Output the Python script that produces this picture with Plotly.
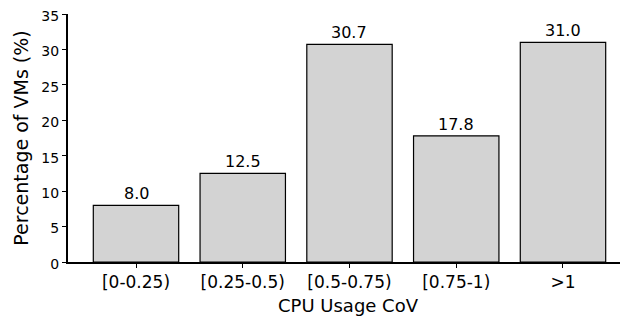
import plotly.graph_objects as go

categories = ["[0-0.25)", "[0.25-0.5)", "[0.5-0.75)", "[0.75-1)", ">1"]
values = [8.0, 12.5, 30.7, 17.8, 31.0]
y_ticks = [0, 5, 10, 15, 20, 25, 30, 35]

font = "DejaVu Sans"
fig = go.Figure()
fig.add_trace(go.Bar(
    x=list(range(len(categories))), y=values,
    width=0.8,
    marker=dict(color="lightgray", line=dict(color="black", width=1.2)),
    showlegend=False, hoverinfo="skip",
))
for i, v in enumerate(values):
    fig.add_annotation(x=i, y=v, text=f"{v:.1f}", showarrow=False,
                       yanchor="bottom", yshift=0,
                       font=dict(family=font, size=16, color="black"))

# page body has an 8px margin, so the figure is sized/offset accordingly
fig.update_layout(
    width=620, height=310,
    margin=dict(l=60, r=0, t=6, b=56),
    plot_bgcolor="white", paper_bgcolor="white",
    font=dict(family=font, size=14, color="black"),
)
fig.update_xaxes(
    range=[-0.637, 4.609], automargin=False,
    tickvals=list(range(len(categories))), ticktext=categories,
    showline=True, linecolor="black", linewidth=2,
    ticks="outside", ticklen=4, tickwidth=1.2, tickcolor="black",
    showgrid=False, zeroline=False,
    tickfont=dict(size=17), ticklabeloverflow="allow",
    title=dict(text="CPU Usage CoV", font=dict(size=18), standoff=8),
)
fig.update_yaxes(
    range=[0, 35], automargin=False,
    tickvals=y_ticks,
    showline=True, linecolor="black", linewidth=2,
    ticks="outside", ticklen=4, tickwidth=1.2, tickcolor="black",
    showgrid=False, zeroline=False,
    tickfont=dict(size=14), ticklabeloverflow="allow", ticklabelshift=2,
    title=dict(text="Percentage of VMs (%)", font=dict(size=19), standoff=8),
)
fig.write_html("out.html")
